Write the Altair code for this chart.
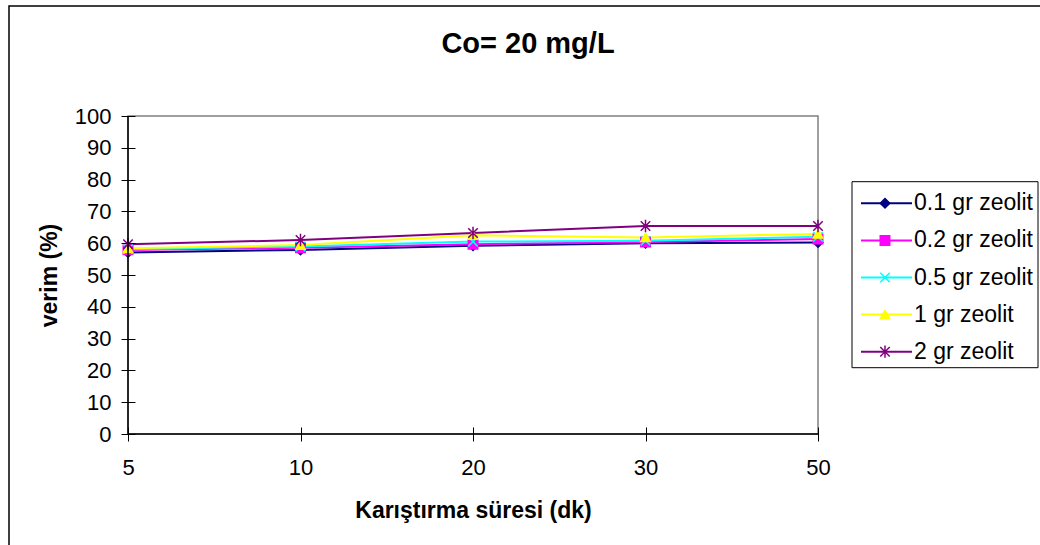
import altair as alt
import pandas as pd

# ---- data ----
times = ["5", "10", "20", "30", "50"]
series_names = ["0.1 gr zeolit", "0.2 gr zeolit", "0.5 gr zeolit", "1 gr zeolit", "2 gr zeolit"]
s_01 = [57.1, 57.9, 59.2, 60.0, 60.2]
s_02 = [57.9, 58.6, 59.7, 60.4, 61.3]
s_05 = [58.1, 59.0, 60.5, 60.8, 62.0]
s_1 = [58.4, 59.4, 62.5, 61.8, 62.9]
s_2 = [59.7, 61.0, 63.2, 65.4, 65.4]
y_ticks = [0, 10, 20, 30, 40, 50, 60, 70, 80, 90, 100]
chart_title = "Co= 20 mg/L"
x_title = "Karıştırma süresi (dk)"
y_title = "verim (%)"

colors = ["#000080", "#FF00FF", "#00FFFF", "#FFFF00", "#800080"]
shapes = ["diamond", "square", "M-1,-1L1,1M-1,1L1,-1", "triangle-up",
          "M-1,-1L1,1M-1,1L1,-1M0,-1.3L0,1.3"]

rows = []
for k, (name, vals) in enumerate(zip(series_names, [s_01, s_02, s_05, s_1, s_2])):
    for t, v in zip(times, vals):
        rows.append({"time": t, "value": v, "series": name, "order": k})
df = pd.DataFrame(rows)
leg_df = pd.DataFrame({"series": series_names})
one = pd.DataFrame({"a": [0]})

FONT = "Liberation Sans"
W, H = 690, 318
LEFT, TOP = 128, 116

color_scale = alt.Scale(domain=series_names, range=colors)
shape_scale = alt.Scale(domain=series_names, range=shapes)
x_scale = alt.Scale(type="point", domain=times, padding=0)
y_scale = alt.Scale(domain=[0, 100], nice=False)

x_axis = alt.Axis(title=x_title, domain=False, tickSize=14, offset=-7,
                  tickColor="#000", tickWidth=1, labelAngle=0, zindex=2,
                  labelFontSize=22, labelFont=FONT, labelColor="#000",
                  labelPadding=16, grid=False, labelOverlap=False,
                  titleFont=FONT, titleFontSize=23, titleFontWeight="bold",
                  titleColor="#000", titleBaseline="middle",
                  titleX=W / 2, titleY=83)
y_axis = alt.Axis(title=y_title, values=y_ticks, domain=False, tickSize=14,
                  offset=-7, tickColor="#000", tickWidth=1, zindex=2,
                  labelFontSize=22, labelFont=FONT, labelColor="#000",
                  labelPadding=10, grid=False, labelOverlap=False,
                  labelFlush=False,
                  titleFont=FONT, titleFontSize=23, titleFontWeight="bold",
                  titleColor="#000", titleBaseline="middle",
                  titleX=-86, titleY=H / 2, titleAngle=-90)

x_enc = alt.X("time:O", scale=x_scale, sort=times, axis=x_axis)
y_enc = alt.Y("value:Q", scale=y_scale, axis=y_axis)

base = alt.Chart(df)
lines = base.mark_line(strokeWidth=2).encode(
    x=x_enc, y=y_enc,
    color=alt.Color("series:N", scale=color_scale, legend=None),
    order=alt.Order("order:Q"),
)
points = base.mark_point(filled=True, size=90, strokeWidth=1.5, opacity=1).encode(
    x=x_enc, y=y_enc,
    fill=alt.Fill("series:N", scale=color_scale, legend=None),
    stroke=alt.Stroke("series:N", scale=color_scale, legend=None),
    shape=alt.Shape("series:N", scale=shape_scale, legend=None),
    order=alt.Order("order:Q"),
)
bottom_line = alt.Chart(one).mark_rule(color="#000", strokeWidth=1.5).encode(
    y=alt.value(H))
left_line = alt.Chart(one).mark_rule(color="#000", strokeWidth=1.5).encode(
    x=alt.value(0))
title_txt = alt.Chart(pd.DataFrame({"t": [chart_title]})).mark_text(
    font=FONT, fontSize=29, fontWeight="bold", color="#000",
    align="center", baseline="middle").encode(
    x=alt.value(528 - LEFT), y=alt.value(44 - TOP), text="t:N")
outer = alt.Chart(one).mark_rect(fill="transparent", stroke="#000", strokeWidth=1.5).encode(
    x=alt.value(9 - LEFT), x2=alt.value(1060 - LEFT),
    y=alt.value(6 - TOP), y2=alt.value(570 - TOP))

main = alt.layer(lines, points, outer, bottom_line, left_line, title_txt)

# ---- legend built from marks ----
leg_y = alt.Y("series:N", sort=series_names,
              scale=alt.Scale(type="point", domain=series_names, padding=0,
                              range=[203.3 - TOP, 351.7 - TOP]), axis=None)
leg_box = alt.Chart(one).mark_rect(fill="white", stroke="#000", strokeWidth=1).encode(
    x=alt.value(852 - LEFT), x2=alt.value(1038 - LEFT),
    y=alt.value(181.7 - TOP), y2=alt.value(367.7 - TOP))
leg_base = alt.Chart(leg_df)
leg_rule = leg_base.mark_rule(strokeWidth=2).encode(
    x=alt.value(861 - LEFT), x2=alt.value(912 - LEFT), y=leg_y,
    color=alt.Color("series:N", scale=color_scale, legend=None))
leg_pt = leg_base.mark_point(filled=True, size=90, strokeWidth=1.5, opacity=1).encode(
    x=alt.value(885 - LEFT), y=leg_y,
    fill=alt.Fill("series:N", scale=color_scale, legend=None),
    stroke=alt.Stroke("series:N", scale=color_scale, legend=None),
    shape=alt.Shape("series:N", scale=shape_scale, legend=None))
leg_txt = leg_base.mark_text(font=FONT, fontSize=23, color="#000", align="left",
                             baseline="middle").encode(
    x=alt.value(914 - LEFT), y=leg_y, text="series:N")
legend = alt.layer(leg_box, leg_rule, leg_pt, leg_txt)

chart = alt.layer(main, legend).resolve_scale(y="independent").properties(
    width=W, height=H,
    autosize=alt.AutoSizeParams(type="none"),
    padding={"left": LEFT, "top": TOP, "right": 1040 - LEFT - W, "bottom": 545 - TOP - H},
    background="white",
).configure_view(stroke="#808080", strokeWidth=1.5)

chart.save("out.html", embed_options={"renderer": "svg", "actions": False})
